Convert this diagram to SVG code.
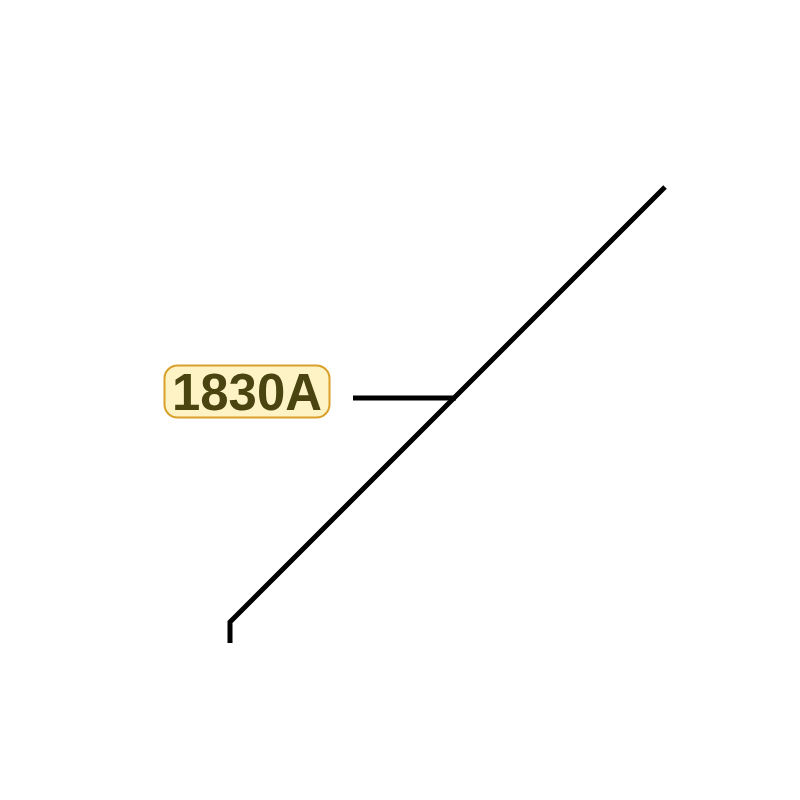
<svg xmlns="http://www.w3.org/2000/svg" width="800" height="800" viewBox="0 0 800 800">
<style>
.wire{fill:none;stroke:#000;stroke-width:5;stroke-linecap:butt;stroke-linejoin:miter}
.lbl{fill:#fdf3c4;stroke:#d9a02a;stroke-width:2}
.txt{font-family:"Liberation Sans",Arial,sans-serif;font-weight:bold;font-size:52px;fill:#4a4410}
</style>
<rect width="800" height="800" fill="#fff"/>
<g id="connectors">
<polyline class="wire" points="665,187 230,622 230,643"/>
<line class="wire" x1="353" y1="398" x2="456" y2="398"/>
</g>
<g id="label-1830A">
<rect class="lbl" x="164.5" y="365.5" width="165" height="52" rx="13"/>
<text class="txt" x="247" y="410" text-anchor="middle" textLength="150" lengthAdjust="spacingAndGlyphs">1830A</text>
</g>
</svg>
